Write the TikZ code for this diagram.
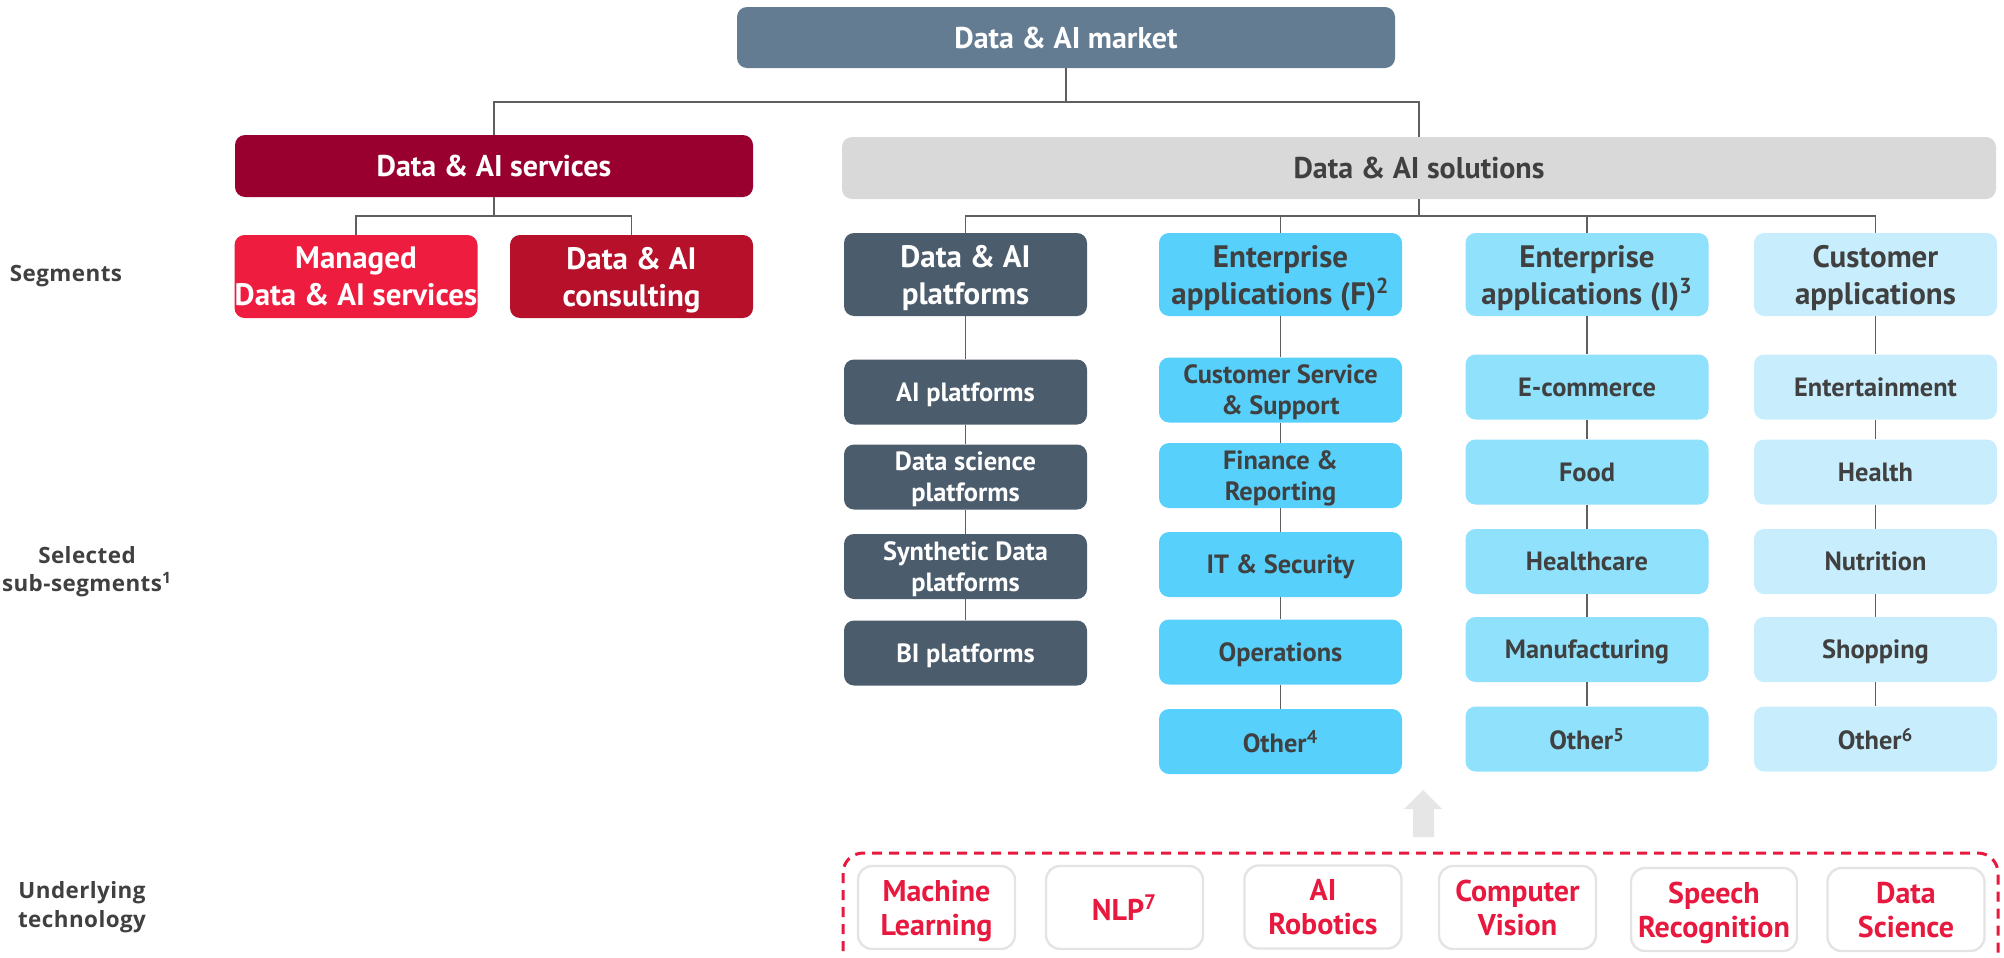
\documentclass[tikz,border=0pt]{standalone}
\usepackage{fontspec}
\setmainfont{PT Sans}
\newfontfamily\lblfont[LetterSpace=2]{Open Sans}
\definecolor{marketc}{RGB}{100,124,146}
\definecolor{servc}{RGB}{153,0,48}
\definecolor{managedc}{RGB}{238,28,62}
\definecolor{consultc}{RGB}{182,16,43}
\definecolor{solc}{RGB}{217,217,217}
\definecolor{platc}{RGB}{75,92,109}
\definecolor{entfc}{RGB}{87,208,252}
\definecolor{entic}{RGB}{143,225,252}
\definecolor{custc}{RGB}{200,238,253}
\definecolor{darktext}{RGB}{64,64,64}
\definecolor{techred}{RGB}{232,25,63}
\definecolor{arrowgrey}{RGB}{230,230,230}
\definecolor{lineg}{RGB}{95,95,95}
\definecolor{shadowg}{RGB}{228,228,228}
\begin{document}
\begin{tikzpicture}[x=0.5pt,y=-0.5pt,
  base/.style={rounded corners=5pt, inner sep=0pt, align=center, text depth=0pt, font=\bfseries},
  title/.style={base, font=\fontsize{15}{18}\selectfont\bfseries, minimum height=31pt},
  segbox/.style={base, font=\fontsize{15.5}{18.5}\selectfont\bfseries, minimum width=121.5pt, minimum height=41.5pt},
  subbox/.style={base, font=\fontsize{13.2}{15.5}\selectfont\bfseries, minimum width=121.5pt, minimum height=32.5pt},
  platsty/.style={fill=platc, text=white},
  entfsty/.style={fill=entfc, text=darktext},
  entisty/.style={fill=entic, text=darktext},
  custsty/.style={fill=custc, text=darktext},
  techbox/.style={rounded corners=7pt, inner sep=0pt, align=center, text depth=0pt, fill=white, draw=shadowg, line width=1.2pt,
    font=\fontsize{15}{17}\selectfont\bfseries, text=techred, minimum width=78.5pt, minimum height=41.5pt},
  sidelbl/.style={align=center, inner sep=0pt, text depth=0pt, text=darktext, font=\lblfont\fontsize{11.2}{14.2}\selectfont\bfseries},
  conn/.style={draw=lineg, line width=0.7pt},
  techframe/.style={draw=techred, line width=1.5pt, dash pattern=on 5pt off 3.5pt, rounded corners=10pt}
]
\useasboundingbox (0,0) rectangle (2004,958);
\clip (0,0) rectangle (2004,958);

% top levels
\node[title, fill=marketc, text=white, minimum width=329pt, minimum height=30.5pt] (market) at (1066,37.5) {Data \& AI market};
\node[title, fill=servc, text=white, minimum width=259pt] (services) at (494,166) {Data \& AI services};
\node[title, fill=solc, text=darktext, minimum width=577pt] (solutions) at (1419,168) {Data \& AI solutions};

% segments
\node[segbox, fill=managedc, text=white] (managed) at (356,276.5) {Managed\\Data \& AI services};
\node[segbox, fill=consultc, text=white] (consulting) at (631.5,276.5) {Data \& AI\\consulting};
\node[segbox, platsty] (plat) at (965.5,274.5) {Data \& AI\\platforms};
\node[segbox, entfsty] (entf) at (1280.5,274.5) {Enterprise\\applications (F)\textsuperscript{2}};
\node[segbox, entisty] (enti) at (1587,274.5) {Enterprise\\applications (I)\textsuperscript{3}};
\node[segbox, custsty] (cust) at (1875.5,274.5) {Customer\\applications};

% sub-segments: platforms
\node[subbox, platsty] (p1) at (965.5,392) {AI platforms};
\node[subbox, platsty] (p2) at (965.5,477) {Data science\\platforms};
\node[subbox, platsty] (p3) at (965.5,566.5) {Synthetic Data\\platforms};
\node[subbox, platsty] (p4) at (965.5,653) {BI platforms};

% enterprise F
\node[subbox, entfsty] (f1) at (1280.5,390) {Customer Service\\\& Support};
\node[subbox, entfsty] (f2) at (1280.5,475.5) {Finance \&\\Reporting};
\node[subbox, entfsty] (f3) at (1280.5,564.5) {IT \& Security};
\node[subbox, entfsty] (f4) at (1280.5,652) {Operations};
\node[subbox, entfsty] (f5) at (1280.5,741.5) {Other\textsuperscript{4}};

% enterprise I
\node[subbox, entisty] (i1) at (1587,387) {E-commerce};
\node[subbox, entisty] (i2) at (1587,472) {Food};
\node[subbox, entisty] (i3) at (1587,561.5) {Healthcare};
\node[subbox, entisty] (i4) at (1587,649.5) {Manufacturing};
\node[subbox, entisty] (i5) at (1587,739) {Other\textsuperscript{5}};

% customer
\node[subbox, custsty] (c1) at (1875.5,387) {Entertainment};
\node[subbox, custsty] (c2) at (1875.5,472) {Health};
\node[subbox, custsty] (c3) at (1875.5,561.5) {Nutrition};
\node[subbox, custsty] (c4) at (1875.5,649.5) {Shopping};
\node[subbox, custsty] (c5) at (1875.5,739) {Other\textsuperscript{6}};

% connectors
\coordinate (bus1) at (0,102);
\coordinate (bus2) at (0,216);
\draw[conn] (market.south) -- (market.south |- bus1);
\draw[conn] (services.north) |- (solutions.north |- bus1) -- (solutions.north);
\draw[conn] (services.south) -- (services.south |- bus2);
\draw[conn] (managed.north) |- (consulting.north |- bus2) -- (consulting.north);
\draw[conn] (solutions.south) -- (solutions.south |- bus2);
\draw[conn] (plat.north) |- (cust.north |- bus2) -- (cust.north);
\draw[conn] (entf.north) -- (entf.north |- bus2);
\draw[conn] (enti.north) -- (enti.north |- bus2);
\draw[conn] (plat) -- (p1) -- (p2) -- (p3) -- (p4);
\draw[conn] (entf) -- (f1) -- (f2) -- (f3) -- (f4) -- (f5);
\draw[conn] (enti) -- (i1) -- (i2) -- (i3) -- (i4) -- (i5);
\draw[conn] (cust) -- (c1) -- (c2) -- (c3) -- (c4) -- (c5);

% up arrow
\fill[arrowgrey] (1413,837) -- (1413,809) -- (1404,809) -- (1423,790) -- (1442,809) -- (1434,809) -- (1434,837) -- cycle;

% technology frame
\draw[techframe] (843,853) rectangle (1998,990);
\node[techbox] (ml) at (936.5,907.5) {Machine\\Learning};
\node[techbox] (nlp) at (1124.5,907.5) {NLP\textsuperscript{7}};
\node[techbox] (rob) at (1323,907) {AI\\Robotics};
\node[techbox] (cv) at (1517.5,907.5) {Computer\\Vision};
\node[techbox, minimum width=83pt] (sr) at (1714,909.5) {Speech\\Recognition};
\node[techbox] (ds) at (1906,909.5) {Data\\Science};

% side labels
\node[sidelbl] (lseg) at (66,273.5) {Segments};
\node[sidelbl] (lsub) at (87,569) {Selected\\sub-segments\textsuperscript{1}};
\node[sidelbl] (ltech) at (82,904.5) {Underlying\\technology};
\end{tikzpicture}
\end{document}
